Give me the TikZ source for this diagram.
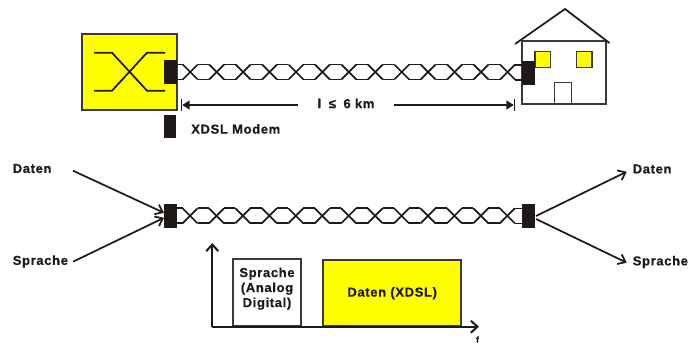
\documentclass[tikz,border=0pt]{standalone}
\usepackage{fontspec}
\setmainfont[LetterSpace=5,BoldFont={Liberation Sans Bold},BoldFeatures={LetterSpace=5,FakeBold=0.6}]{Liberation Sans}
\usetikzlibrary{arrows.meta,calc}
\definecolor{ink}{HTML}{1F1A17}
\definecolor{boxyellow}{HTML}{FFFF00}
\definecolor{edgegray}{HTML}{3A3A3A}
\newcommand{\twistedpair}[2]{%
  \begin{scope}[shift={(#1.east)}]
    \draw[wire] (0,-7.5) -- (5.5,-7.5) (0,7.5) -- (5.5,7.5);
    \foreach \k in {0,...,12} {
      \pgfmathsetmacro{\xc}{13+26.44*\k}
      \draw[wire] (\xc-7.5,-7.5) -- (\xc+7.5,7.5);
      \draw[wire] (\xc-7.5,7.5) -- (\xc+7.5,-7.5);
    }
    \foreach \k in {0,...,11} {
      \pgfmathsetmacro{\xc}{13+26.44*\k}
      \draw[wire] (\xc+7.5,-7.5) -- (\xc+18.94,-7.5);
      \draw[wire] (\xc+7.5,7.5) -- (\xc+18.94,7.5);
    }
  \end{scope}
  \draw[wire] ($(#2.west)+(-7,-7.5)$) -- ($(#2.west)+(0,-7.5)$);
  \draw[wire] ($(#2.west)+(-7,7.5)$) -- ($(#2.west)+(0,7.5)$);
}
\tikzset{
  wire/.style={draw=ink,line width=1.3pt},
  modem/.style={fill=ink,draw=none,inner sep=0pt,minimum width=9.4pt,minimum height=17.8pt},
  label/.style={inner sep=0pt,text=ink,font=\fontsize{9.75}{11.25}\selectfont\bfseries},
  signal/.style={draw=ink,line width=1.3pt,-{Straight Barb[length=5pt,width=8pt,line width=1.3pt]}},
  axis/.style={draw=ink,line width=1.5pt,-{Straight Barb[length=5pt,width=9pt,line width=1.5pt]}},
  dimline/.style={draw=ink,line width=1.2pt,-{Triangle[length=5.5pt,width=6.5pt].Bar[width=9pt,line width=.9pt]}},
  spectrum/.style={draw=edgegray,line width=1.4pt,inner sep=0pt,text=ink,align=center,
    font=\fontsize{9.75}{11.25}\selectfont\bfseries},
  window/.style={fill=boxyellow,draw=edgegray,line width=.9pt,inner sep=0pt,minimum width=11.6pt,minimum height=11.6pt},
}
\begin{document}
\begin{tikzpicture}[x=0.75pt,y=-0.75pt]
\useasboundingbox (0,0) rectangle (689,344);
% exchange box
\node[fill=boxyellow,draw=edgegray,line width=1.4pt,inner sep=0pt,minimum width=71.25pt,minimum height=57pt] (exchange) at (129.5,72) {};
\coordinate (swA) at (94,52.7); \coordinate (swB) at (165,90.7);
\coordinate (swC) at (94,90.7); \coordinate (swD) at (165,52.7);
\draw[wire] (swA) -- ++(18,0) -- ++(35,38) -- (swB);
\draw[wire] (swC) -- ++(18,0) -- ++(35,-38) -- (swD);
% house
\node[fill=white,draw=edgegray,line width=1.4pt,inner sep=0pt,minimum width=62.5pt,minimum height=47.7pt] (house) at (564,72.5) {};
\coordinate (roofL) at (515,44); \coordinate (roofT) at (565,9); \coordinate (roofR) at (609.5,43);
\draw[wire] (roofL) -- (roofT) -- (roofR);
\node[window] (winL) at (542.8,59.5) {};
\node[window] (winR) at (584.2,59.5) {};
\node[fill=white,draw=edgegray,line width=1pt,inner sep=0pt,minimum width=12.8pt,minimum height=16pt] (door) at (562.8,93.3) {};
% top line
\node[modem] (mA) at (170.7,72) {};
\node[modem] (mB) at (528.7,72.7) {};
\twistedpair{mA}{mB}
\node[modem] at (170.7,72) {};
\node[modem] at (528.7,72.7) {};
% dimension
\coordinate (dimL) at (181,105); \coordinate (dimR) at (515,105);
\node[label,minimum width=71.25pt] (dimtext) at (346,103.5) {l\hspace{2.5pt} ≤ \hspace{2.5pt}6 km};
\draw[dimline] (dimtext.west |- dimL) -- (dimL);
\draw[dimline] (dimtext.east |- dimR) -- (dimR);
% legend
\node[modem] (legend) at (170,126.5) {};
\node[label,anchor=west] (legendtext) at (191,129) {XDSL Modem};
% second line
\node[modem] (mC) at (170.5,215.8) {};
\node[modem] (mD) at (528.5,216) {};
\twistedpair{mC}{mD}
\node[modem] at (170.5,215.8) {};
\node[modem] at (528.5,216) {};
\node[label,anchor=west] (dl) at (12.5,168.5) {Daten};
\node[label,anchor=west] (sl) at (12.5,261.5) {Sprache};
\node[label,anchor=west] (dr) at (632.5,169) {Daten};
\node[label,anchor=west] (sr) at (632.5,262) {Sprache};
\draw[signal] (73,170.7) -- ($(mC.west)+(0,-3)$);
\draw[signal] (73,261.7) -- ($(mC.west)+(0,2)$);
\draw[signal] ($(mD.east)+(1,0)$) -- (626.7,171.7);
\draw[signal] ($(mD.east)+(1,3)$) -- (626.7,262.7);
% spectrum
\coordinate (origin) at (212.3,326.7);
\coordinate (ytop) at (212.3,243);
\coordinate (xend) at (479,326.7);
\node[spectrum,fill=white,minimum width=50.5pt,minimum height=50.2pt] (voice) at (267,292.7) {};
\node[spectrum,draw=none] (voicetext) at (267,288.7) {Sprache\\(Analog\\Digital)};
\node[spectrum,fill=boxyellow,minimum width=103.3pt,minimum height=49.6pt] (data) at (392.2,293.2) {Daten (XDSL)};
\draw[axis] (origin) -- (ytop);
\draw[axis] (origin) -- (xend);
\node[label,font=\fontsize{6.5}{8}\selectfont\bfseries] (flabel) at (477.5,339.5) {f};
\end{tikzpicture}
\end{document}
